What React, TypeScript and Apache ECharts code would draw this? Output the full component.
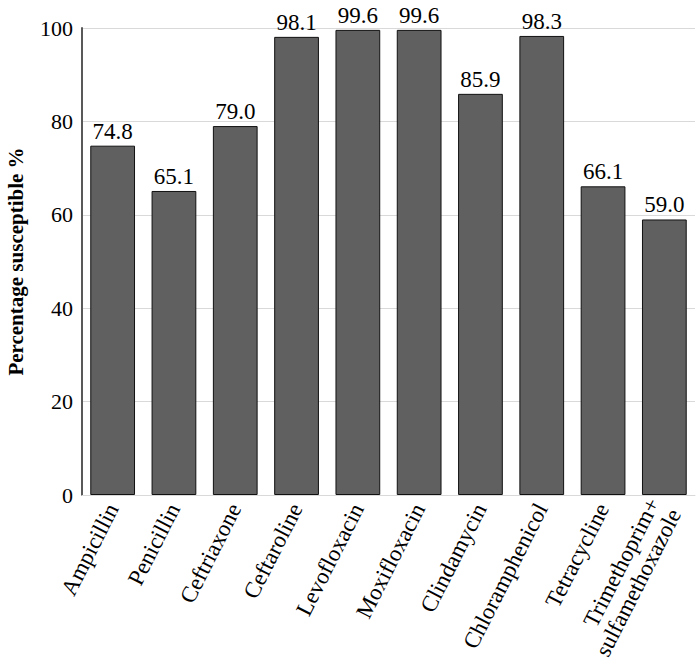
import React, { useEffect, useRef } from "react";
import * as echarts from "echarts";

const categories = [
  "Ampicillin",
  "Penicillin",
  "Ceftriaxone",
  "Ceftaroline",
  "Levofloxacin",
  "Moxifloxacin",
  "Clindamycin",
  "Chloramphenicol",
  "Tetracycline",
  "Trimethoprim+\nsulfamethoxazole",
];
const values = [74.8, 65.1, 79.0, 98.1, 99.6, 99.6, 85.9, 98.3, 66.1, 59.0];
const yTicks = [0, 20, 40, 60, 80, 100];

const FONT = "Liberation Serif";

export default function App() {
  const ref = useRef<HTMLDivElement>(null);
  useEffect(() => {
    document.body.style.margin = "0";
    const chart = echarts.init(ref.current!, undefined, { renderer: "svg" });
    chart.setOption({
      animation: false,
      textStyle: { fontFamily: FONT },
      grid: { left: 82, right: 5, top: 28, bottom: 172, outerBoundsMode: "none", containLabel: false },
      xAxis: {
        type: "category",
        data: categories,
        axisLine: { show: true, lineStyle: { color: "#d9d9d9", width: 1 } },
        axisTick: { show: false },
        axisLabel: {
          rotate: 63,
          interval: 0,
          fontSize: 23,
          color: "#000",
          fontFamily: FONT,
          margin: 10,
          lineHeight: 24,
        },
      },
      yAxis: {
        type: "value",
        min: yTicks[0],
        max: yTicks[yTicks.length - 1],
        interval: 20,
        name: "Percentage susceptible %",
        nameLocation: "middle",
        nameGap: 56,
        nameTextStyle: {
          fontSize: 21,
          fontWeight: "bold",
          color: "#000",
          fontFamily: FONT,
        },
        axisLine: { show: true, lineStyle: { color: "#595959", width: 2 } },
        axisTick: { show: false },
        axisLabel: { fontSize: 22, color: "#000", fontFamily: FONT, margin: 9 },
        splitLine: { show: true, lineStyle: { color: "#d9d9d9", width: 1 } },
      },
      series: [
        {
          type: "bar",
          data: values,
          barWidth: "73%",
          itemStyle: { color: "#606060", borderColor: "#111", borderWidth: 1 },
          label: {
            show: true,
            position: "top",
            formatter: (p: any) => p.value.toFixed(1),
            fontSize: 23,
            color: "#000",
            fontFamily: FONT,
            distance: 3,
          },
        },
      ],
    });
    return () => chart.dispose();
  }, []);
  return <div ref={ref} style={{ width: 700, height: 667 }} />;
}
